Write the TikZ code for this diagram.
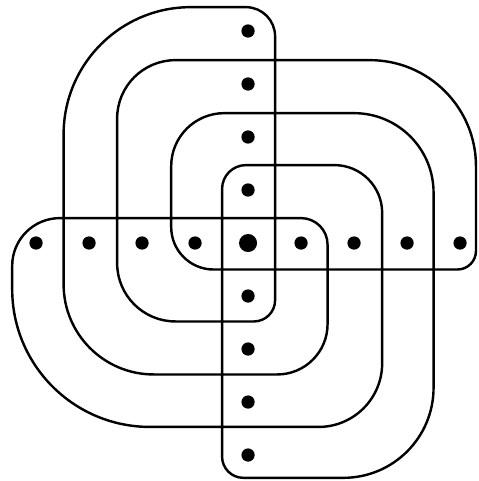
\documentclass[tikz,border=0pt]{standalone}
\usepackage{tikz}
\usetikzlibrary{positioning}
\tikzstyle{dot} = [circle, fill=black, draw=none, inner sep=0pt, minimum size=0.25cm]
\tikzstyle{bigdot} = [dot, minimum size=0.34cm]
\tikzstyle{loopline} = [draw=black, line width=1.3pt, line join=round]

\begin{document}
\begin{tikzpicture}
\useasboundingbox (-4.68,-4.49) rectangle (4.34,4.585);

% one closed curve, corner by corner
\draw[loopline] (-3.48,0)
  [rounded corners=2.4cm] -- (-3.48,4.45)
  [rounded corners=0.55cm] -- (0.51,4.45)
  [rounded corners=0.4cm] -- (0.51,-1.48)
  [rounded corners=1.1cm] -- (-2.47,-1.48)
  [rounded corners=1.1cm] -- (-2.47,3.45)
  [rounded corners=2.0cm] -- (4.3,3.45)
  [rounded corners=0.35cm] -- (4.3,-0.5)
  [rounded corners=0.8cm] -- (-1.45,-0.5)
  [rounded corners=1.0cm] -- (-1.45,2.45)
  [rounded corners=1.5cm] -- (3.5,2.45)
  [rounded corners=1.7cm] -- (3.5,-4.43)
  [rounded corners=0.4cm] -- (-0.49,-4.43)
  [rounded corners=0.45cm] -- (-0.49,1.47)
  [rounded corners=0.9cm] -- (2.53,1.47)
  [rounded corners=1.2cm] -- (2.53,-3.47)
  [rounded corners=2.6cm] -- (-4.45,-3.47)
  [rounded corners=0.9cm] -- (-4.45,0.47)
  [rounded corners=0.5cm] -- (1.5,0.47)
  [rounded corners=0.95cm] -- (1.5,-2.48)
  [rounded corners=1.7cm] -- (-3.48,-2.48)
  [sharp corners] -- cycle;

% points
\foreach \i in {-4,-3,-2,-1,1,2,3,4} {
  \node[dot] (row\i) at (\i,0) {};
  \node[dot] (col\i) at (0,\i) {};
}
\node[bigdot] (mid) at (0,0) {};

\end{tikzpicture}
\end{document}
